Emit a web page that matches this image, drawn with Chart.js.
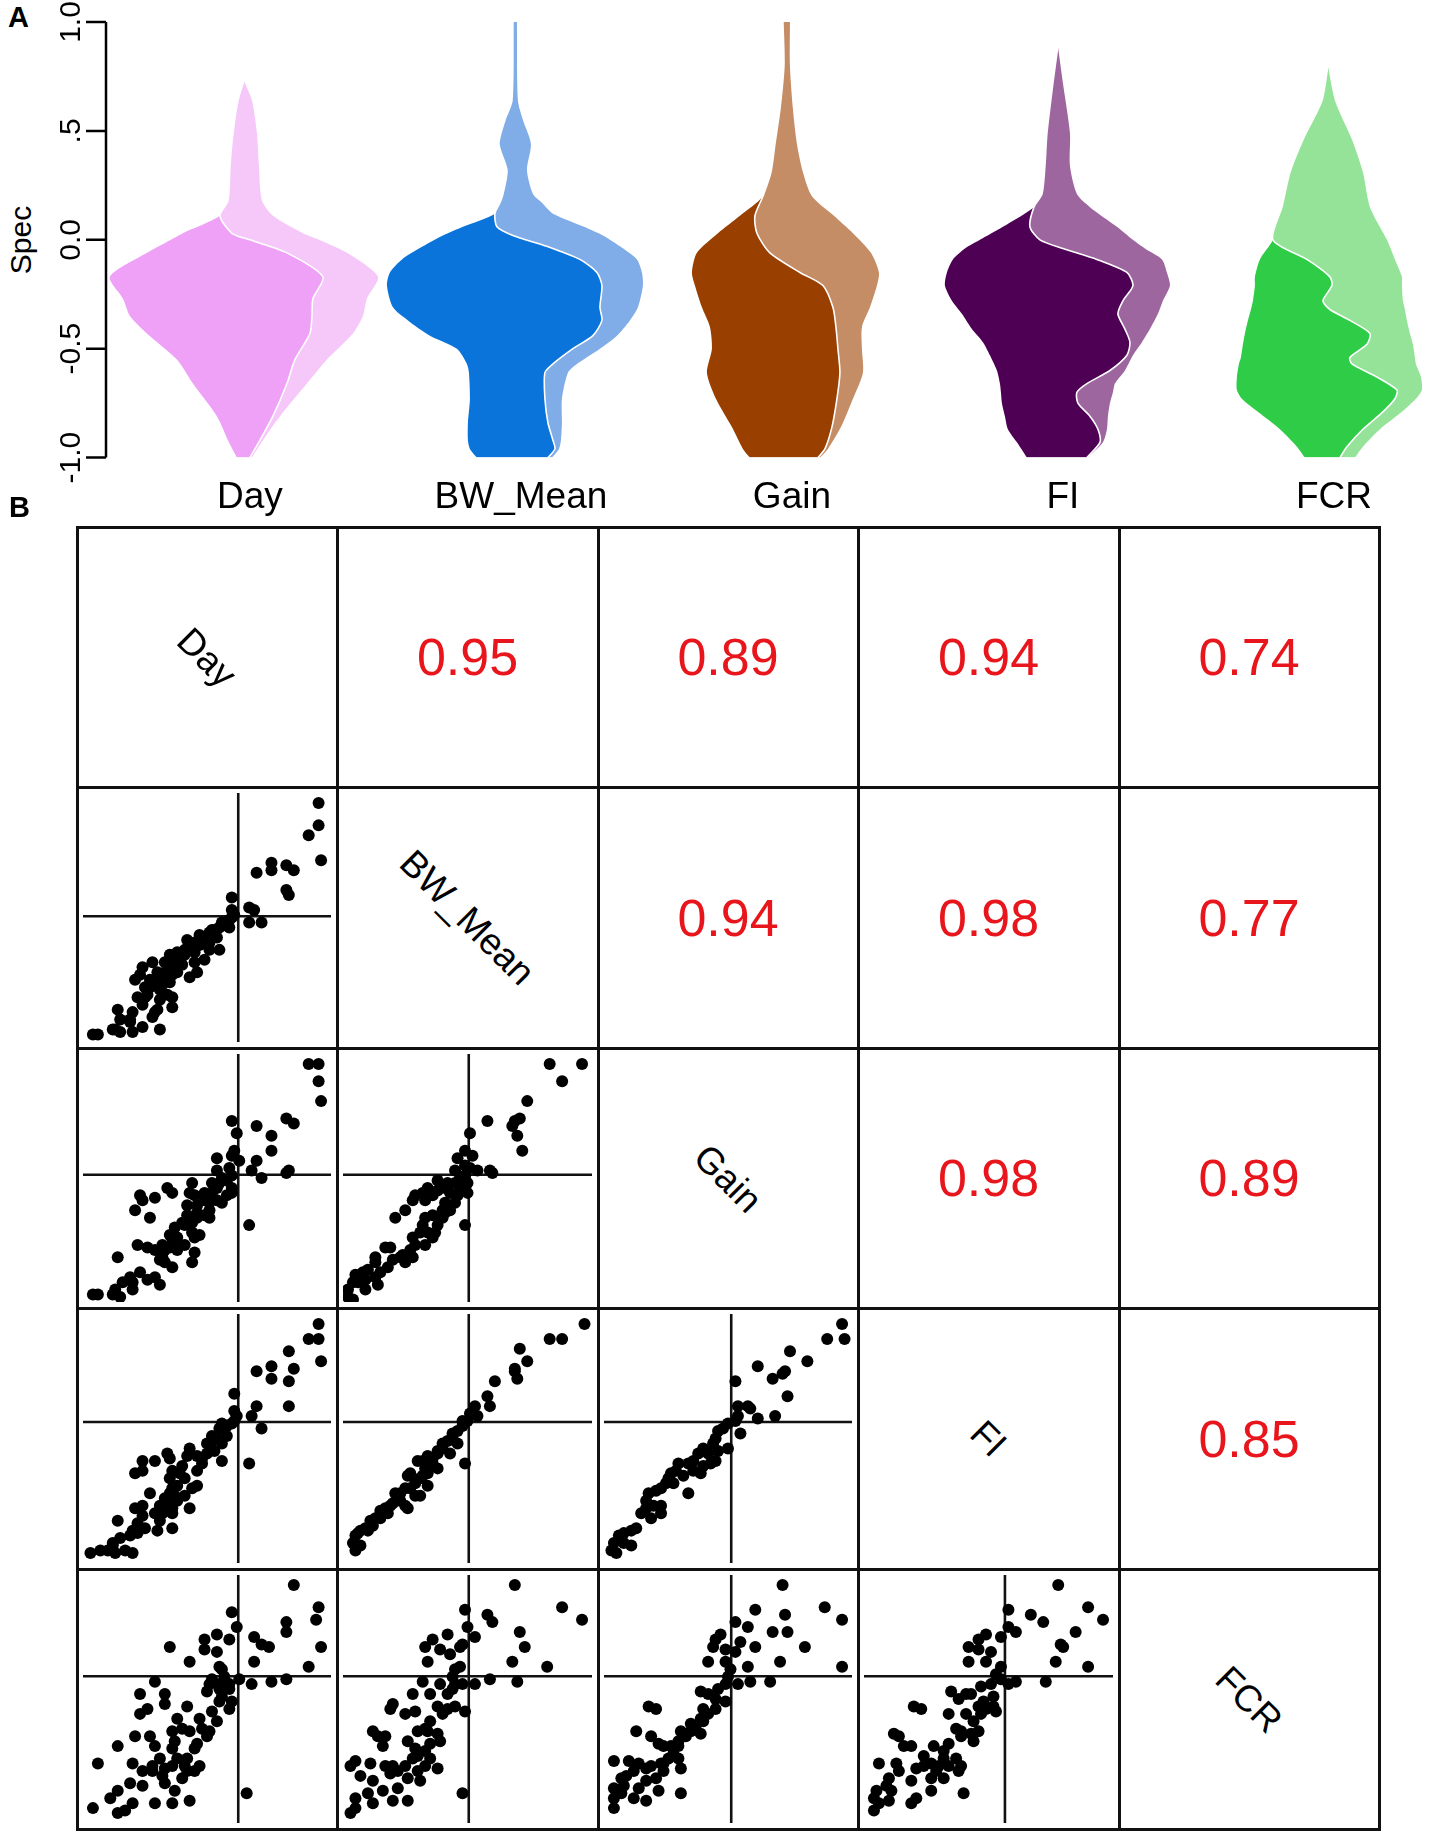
<!DOCTYPE html>
<html>
<head>
<meta charset="utf-8">
<script src="https://cdn.jsdelivr.net/npm/chart.js@4.4.1/dist/chart.umd.min.js"></script>
<style>
html,body{margin:0;padding:0;background:#fff;}
body{width:1429px;height:1838px;position:relative;overflow:hidden;font-family:"Liberation Sans",Arial,Helvetica,sans-serif;color:#000;}
#violin{position:absolute;left:0;top:0;}
.panel-label{position:absolute;font-weight:bold;font-size:29px;line-height:1;}
.spec{position:absolute;left:21px;top:240px;font-size:30px;line-height:1;white-space:nowrap;transform:translate(-50%,-50%) rotate(-90deg);}
.cell{position:absolute;display:flex;align-items:center;justify-content:center;}
.corr{color:#e8161c;font-size:52px;line-height:1;}
.diag span{display:inline-block;transform:rotate(45deg);font-size:37px;line-height:1;white-space:nowrap;}
.gl{position:absolute;background:#111;}
canvas.sc{position:absolute;}
</style>
</head>
<body>
<div class="panel-label" style="left:8px;top:3px">A</div>
<div class="spec">Spec</div>
<canvas id="violin" width="1429" height="538"></canvas>
<div class="panel-label" style="left:9px;top:493px">B</div>
<div id="matrix"></div>
<script>
// ---------------- DATA ----------------
const traits = ['Day', 'BW_Mean', 'Gain', 'FI', 'FCR'];
const traitPos = [1, 2, 3, 4, 5];
const specTicks = [-1, -0.5, 0, 0.5, 1];
const specTickLabels = ['-1.0', '-0.5', '0.0', '.5', '1.0'];

// split violins: Spec levels, dark-group edge, split line, light-group edge (density offsets)
const dayLevels = [-1.0,-0.92,-0.81,-0.66,-0.55,-0.43,-0.35,-0.27,-0.17,-0.06,0.0,0.03,0.11,0.18,0.34,0.49,0.64,0.73];
const dayDark   = [-7,-16,-27,-51,-67,-97,-114,-121,-134,-97,-73,-61,-24,-16,-14,-11,-6,0];
const daySplit  = [6,16,29,43,51,66,68,69,79,43,6,-12,-24,-16,-14,-11,-6,0];
const dayLight  = [8,19,36,63,83,109,119,123,134,103,75,59,29,18,15,13,8,0];

const bwLevels = [-1.0,-0.96,-0.92,-0.84,-0.73,-0.61,-0.57,-0.5,-0.44,-0.37,-0.31,-0.21,-0.15,-0.09,-0.03,0.02,0.06,0.12,0.17,0.21,0.32,0.44,0.55,0.64,1.0];
const bwDark   = [-38,-45,-47,-47,-45,-46,-48,-58,-85,-107,-122,-128,-125,-113,-92,-72,-52,-20,-15,-12,-8,-16,-10,-3,-2];
const bwSplit  = [33,40,38,33,30,30,38,58,78,87,85,87,82,65,32,-2,-18,-20,-15,-12,-8,-16,-10,-3,-2];
const bwLight  = [37,44,46,47,47,53,62,85,102,115,123,128,127,122,105,88,69,38,27,18,12,16,8,3,2];

const gainLevels = [-1.0,-0.96,-0.86,-0.73,-0.61,-0.5,-0.4,-0.31,-0.21,-0.15,-0.06,0.03,0.11,0.2,0.31,0.44,0.6,0.8,1.0];
const gainDark   = [-36,-43,-54,-70,-79,-74,-76,-84,-91,-94,-89,-68,-46,-23,-15,-11,-6,-2,-3];
const gainSplit  = [32,39,46,51,54,52,50,47,37,14,-16,-29,-31,-23,-15,-11,-6,-2,-3];
const gainLight  = [34,42,55,67,77,76,76,84,91,93,85,67,48,26,17,11,7,4,4];

const fiLevels = [-1.0,-0.93,-0.87,-0.81,-0.75,-0.70,-0.66,-0.60,-0.53,-0.47,-0.41,-0.34,-0.28,-0.21,-0.15,-0.09,-0.04,0.0,0.06,0.15,0.21,0.34,0.49,0.72,0.89];
const fiDark   = [-30,-40,-49,-52,-55,-56,-57,-60,-67,-74,-85,-95,-105,-112,-110,-104,-92,-77,-54,-23,-15,-12,-10,-4,1];
const fiSplit  = [30,43,41,33,21,20,30,53,70,73,68,61,66,76,70,40,6,-17,-27,-23,-15,-12,-10,-4,1];
const fiLight  = [31,46,50,51,53,56,58,68,76,85,93,101,106,113,110,105,88,76,60,33,20,13,13,6,1];

const fcrLevels = [-1.0,-0.95,-0.87,-0.79,-0.73,-0.69,-0.63,-0.57,-0.54,-0.48,-0.43,-0.37,-0.32,-0.28,-0.21,-0.17,-0.09,0.0,0.15,0.31,0.46,0.64,0.80];
const fcrDark   = [-23,-31,-48,-70,-86,-91,-91,-89,-87,-85,-83,-80,-77,-75,-73,-73,-68,-55,-46,-38,-25,-6,0];
const fcrSplit  = [12,19,35,55,67,69,49,24,22,39,42,22,2,-5,4,2,-21,-55,-46,-38,-25,-6,0];
const fcrLight  = [27,35,52,74,88,94,93,88,87,85,82,79,77,75,74,74,67,59,42,35,24,7,0];

// correlations (upper triangle, by row)
const corrDay  = [0.95, 0.89, 0.94, 0.74];
const corrBw   = [0.94, 0.98, 0.77];
const corrGain = [0.98, 0.89];
const corrFi   = [0.85];

// scaled position of zero for each trait in the pair panels
const traitZero = [62.6, 50.5, 51.3, 56.6, 59.2];

// pair-panel points [x, y] in scaled units (0-100)
const bwDay = [[95,96],[95,87],[91,83],[96,73],[76,72],[76,69],[82,71],[85,69],[70,68],[82,61],[83,59],[60,58],[67,54],[69,53],[67,48],[72,48],[60,53],[61,51],[60,50],[59,49],[56,48],[55,46],[53,45],[59,46],[51,44],[49,42],[54,42],[42,41],[45,40],[47,39],[51,37],[55,37],[45,36],[38,36],[35,35],[41,35],[37,33],[33,32],[40,31],[45,32],[49,33],[51,40],[46,28],[43,26],[38,28],[36,27],[33,28],[28,32],[24,30],[23,27],[21,25],[27,22],[26,19],[31,21],[34,19],[36,18],[31,17],[36,14],[30,13],[28,10],[25,18],[22,18],[24,15],[20,12],[19,9],[14,13],[15,9],[13,5],[12,5],[15,4],[19,8],[20,4],[24,6],[29,12],[31,5],[4,3],[6,3],[32,23],[29,24],[41,37],[35,24],[32,26],[43,38],[47,43],[52,45],[57,47],[39,34],[36,30],[30,28],[27,25],[25,22],[33,25]];
const gainDay = [[91,96],[95,96],[95,89],[96,81],[82,74],[85,72],[60,73],[62,68],[70,71],[76,67],[76,61],[61,61],[60,59],[63,57],[54,58],[54,53],[70,57],[68,53],[72,50],[83,53],[82,52],[67,31],[59,54],[60,51],[58,49],[55,48],[52,48],[60,46],[60,44],[58,43],[56,40],[54,41],[51,40],[49,44],[44,48],[43,44],[34,46],[36,44],[29,42],[23,43],[24,41],[21,37],[27,34],[42,39],[46,39],[51,37],[49,35],[46,34],[44,32],[41,31],[40,32],[37,30],[44,28],[47,27],[38,26],[36,24],[33,21],[32,18],[31,17],[33,16],[36,14],[44,16],[45,20],[22,23],[26,22],[29,21],[14,18],[19,10],[20,8],[23,12],[26,9],[31,7],[16,8],[13,5],[12,3],[15,2],[4,3],[6,3],[20,5],[29,10],[35,22],[38,21],[41,23],[45,26],[54,46],[56,50],[52,44],[49,41],[45,43],[46,36],[35,27],[37,22],[32,23],[42,35],[51,34]];
const gainBw = [[83,96],[96,96],[88,89],[74,81],[58,73],[71,74],[69,73],[68,71],[70,67],[72,61],[51,68],[49,61],[46,58],[52,59],[59,53],[60,52],[54,53],[51,54],[49,55],[45,53],[49,51],[50,48],[50,44],[49,31],[47,50],[45,48],[42,48],[38,49],[34,46],[32,44],[29,43],[28,41],[25,37],[21,34],[41,46],[38,45],[43,44],[36,43],[33,41],[46,43],[45,40],[43,37],[41,36],[40,34],[38,31],[36,35],[33,34],[32,31],[31,28],[28,26],[34,28],[37,28],[36,26],[33,23],[29,23],[27,21],[24,19],[25,16],[23,18],[19,22],[17,22],[13,18],[13,16],[10,13],[8,12],[5,11],[4,8],[2,5],[6,8],[9,9],[13,10],[15,12],[18,14],[20,17],[2,2],[4,1],[9,5],[14,7],[28,18],[41,40],[47,46],[49,51],[42,39],[40,37]];
const fiDay = [[95,96],[91,90],[95,90],[96,81],[83,85],[76,79],[70,77],[76,74],[83,73],[85,78],[83,63],[70,63],[68,59],[72,54],[67,40],[61,68],[61,61],[62,59],[61,57],[60,56],[58,55],[56,56],[55,54],[58,51],[54,50],[52,49],[56,48],[53,45],[50,44],[56,41],[43,46],[42,43],[46,43],[48,40],[46,37],[40,39],[39,36],[41,34],[38,31],[36,30],[35,28],[37,27],[35,25],[33,26],[31,23],[34,22],[36,20],[32,20],[29,20],[24,23],[21,22],[24,19],[22,16],[27,28],[34,44],[35,42],[29,41],[24,41],[24,37],[21,36],[36,37],[43,22],[46,31],[44,30],[41,27],[38,25],[36,22],[36,14],[30,13],[25,14],[22,12],[20,13],[19,11],[14,17],[15,10],[12,8],[13,4],[12,7],[7,5],[3,4],[17,5],[20,4],[10,5],[31,17],[35,34],[48,42],[50,48],[52,51]];
const fiBw = [[97,96],[83,90],[88,90],[71,86],[74,81],[69,78],[69,77],[70,74],[61,73],[58,67],[59,63],[53,63],[52,60],[54,59],[50,57],[48,55],[46,53],[44,50],[42,49],[40,46],[38,45],[34,43],[32,41],[30,41],[38,38],[34,36],[32,35],[31,34],[29,32],[27,36],[26,35],[25,30],[23,28],[21,28],[19,23],[17,22],[15,21],[13,18],[11,17],[9,14],[7,13],[6,12],[5,11],[4,8],[5,5],[7,7],[26,22],[29,27],[34,31],[36,40],[38,44],[43,44],[46,48],[49,40],[25,23],[23,25],[18,20],[15,18],[31,27],[27,30],[33,38],[36,42],[40,48],[44,52],[48,57],[51,60],[20,24],[12,15],[10,13]];
const fiGain = [[96,96],[90,90],[97,90],[75,85],[82,81],[62,79],[73,77],[72,76],[68,74],[74,67],[53,73],[54,63],[58,63],[59,62],[69,59],[62,58],[54,59],[53,57],[55,52],[50,56],[48,54],[46,53],[45,50],[44,48],[50,46],[46,45],[42,44],[45,41],[40,46],[38,44],[36,41],[34,40],[39,36],[30,40],[29,37],[27,36],[26,34],[25,32],[28,32],[23,30],[21,29],[18,28],[34,28],[23,23],[20,23],[17,25],[17,22],[15,20],[19,18],[23,20],[13,14],[11,13],[8,12],[6,11],[8,8],[4,8],[3,5],[11,7],[5,4],[36,37],[40,39],[43,40],[32,35]];
const fcrDay = [[85,96],[95,87],[94,82],[82,81],[82,77],[96,71],[91,63],[69,75],[72,72],[75,71],[69,65],[68,56],[76,57],[82,58],[66,12],[60,85],[62,79],[54,76],[49,74],[59,74],[49,70],[35,71],[43,65],[54,69],[55,63],[56,62],[57,59],[29,57],[51,56],[55,56],[59,56],[50,53],[56,51],[60,49],[59,46],[55,49],[52,45],[54,41],[51,37],[50,35],[46,32],[45,30],[43,37],[40,38],[36,37],[47,42],[42,47],[33,52],[23,52],[33,48],[26,46],[23,44],[21,35],[27,35],[14,31],[29,31],[37,33],[36,30],[38,26],[41,23],[42,21],[45,21],[36,23],[33,22],[28,21],[32,19],[33,16],[28,23],[20,24],[24,21],[6,24],[19,16],[24,15],[14,13],[11,10],[20,8],[29,8],[36,8],[43,9],[37,13],[17,5],[14,4],[4,6],[42,26],[47,23],[40,18],[31,26],[38,42],[48,38],[55,54],[52,58],[63,58],[59,54]];
const fcrBw = [[69,96],[88,87],[96,82],[58,84],[60,81],[71,77],[73,71],[53,75],[68,65],[82,63],[70,57],[59,58],[53,56],[48,12],[49,86],[50,79],[42,76],[48,72],[47,71],[36,74],[33,71],[39,70],[43,68],[34,65],[47,63],[45,62],[44,59],[32,57],[39,56],[45,56],[48,56],[44,54],[42,52],[35,52],[28,52],[38,47],[45,47],[49,45],[42,46],[40,44],[35,41],[33,38],[38,36],[39,33],[35,32],[34,37],[30,37],[20,48],[19,46],[25,44],[29,45],[12,37],[14,35],[17,35],[16,31],[29,30],[33,29],[35,26],[38,22],[33,23],[30,21],[25,23],[22,21],[20,23],[17,23],[11,24],[5,25],[3,23],[7,19],[12,17],[19,20],[26,18],[31,17],[22,14],[16,13],[10,12],[5,10],[12,8],[20,9],[26,9],[5,6],[3,4],[28,26],[30,27],[26,33]];
const fcrGain = [[72,96],[89,87],[96,82],[61,86],[73,84],[53,81],[58,79],[68,77],[74,77],[81,71],[61,71],[71,65],[96,63],[58,63],[59,57],[67,57],[54,56],[31,12],[47,76],[45,74],[55,73],[44,71],[49,70],[53,69],[42,65],[49,65],[51,62],[50,59],[49,56],[46,54],[42,52],[39,53],[45,50],[49,49],[45,46],[42,44],[40,41],[37,38],[39,36],[35,37],[33,35],[31,37],[30,33],[27,31],[24,31],[22,32],[19,35],[13,37],[18,47],[21,46],[30,31],[28,28],[26,26],[23,24],[24,21],[19,23],[17,22],[14,24],[12,21],[9,19],[4,25],[10,25],[7,18],[8,15],[4,14],[7,12],[4,10],[4,6],[12,10],[17,9],[22,13],[21,18],[17,17],[14,14],[24,24],[31,22],[40,46],[35,40],[32,36],[30,26],[39,42]];
const fcrFi = [[78,96],[90,87],[96,82],[67,84],[72,81],[85,77],[58,86],[58,79],[61,77],[80,71],[79,72],[77,65],[90,63],[61,57],[58,56],[73,57],[40,12],[49,76],[46,74],[55,75],[42,71],[46,70],[51,69],[42,65],[49,65],[55,63],[53,60],[55,58],[51,56],[47,55],[43,52],[41,52],[35,53],[38,50],[52,51],[52,47],[53,45],[49,46],[46,47],[47,44],[44,41],[41,44],[34,44],[46,37],[43,36],[39,37],[37,38],[44,33],[39,35],[34,32],[32,29],[20,47],[23,46],[12,36],[14,35],[16,31],[19,31],[28,31],[37,26],[34,23],[30,23],[27,24],[24,23],[29,21],[32,18],[27,18],[21,22],[19,17],[14,21],[10,18],[6,24],[13,24],[9,15],[11,13],[5,13],[4,10],[6,8],[4,5],[10,9],[19,8],[21,10],[27,13],[39,23],[38,21],[24,27],[32,26],[48,49]];

// ---------------- STYLE ----------------
const darkColors  = ['#EFA1F7', '#0A74DA', '#994000', '#4E0055', '#2ECC47'];
const lightColors = ['#F6C8FA', '#80ACE8', '#C48D66', '#9D669F', '#95E398'];
const violinWex = 1 / 271;   // density offset -> category units
const FONT = '"Liberation Sans", Arial, Helvetica, sans-serif';
Chart.defaults.font.family = FONT;
Chart.defaults.color = '#000';

// ---------------- PANEL A ----------------
const violins = [
  {levels: dayLevels,  dark: dayDark,  split: daySplit,  light: dayLight},
  {levels: bwLevels,   dark: bwDark,   split: bwSplit,   light: bwLight},
  {levels: gainLevels, dark: gainDark, split: gainSplit, light: gainLight},
  {levels: fiLevels,   dark: fiDark,   split: fiSplit,   light: fiLight},
  {levels: fcrLevels,  dark: fcrDark,  split: fcrSplit,  light: fcrLight}
];
const violinDatasets = [];
violins.forEach((v, i) => {
  const c = traitPos[i];
  const mk = arr => v.levels.map((y, k) => ({x: c + arr[k] * violinWex, y: y}));
  const common = {pointRadius: 0, tension: 0.25};
  violinDatasets.push(Object.assign({data: mk(v.dark), fill: '+1', backgroundColor: darkColors[i], borderColor: 'rgba(0,0,0,0)', borderWidth: 0, order: 1}, common));
  violinDatasets.push(Object.assign({data: mk(v.split), fill: '+1', backgroundColor: lightColors[i], borderColor: '#ffffff', borderWidth: 1.6, order: 0}, common));
  violinDatasets.push(Object.assign({data: mk(v.light), fill: false, backgroundColor: lightColors[i], borderColor: 'rgba(0,0,0,0)', borderWidth: 0, order: 1}, common));
});

const specAxisPlugin = {
  id: 'specAxis',
  afterDraw(chart) {
    const {ctx, chartArea} = chart;
    const y = chart.scales.y;
    const x0 = chartArea.left;
    ctx.save();
    ctx.strokeStyle = '#000';
    ctx.lineWidth = 2.5;
    ctx.beginPath();
    ctx.moveTo(x0, y.getPixelForValue(specTicks[0]));
    ctx.lineTo(x0, y.getPixelForValue(specTicks[specTicks.length - 1]));
    specTicks.forEach(v => {
      const py = y.getPixelForValue(v);
      ctx.moveTo(x0 - 20, py);
      ctx.lineTo(x0, py);
    });
    ctx.stroke();
    ctx.fillStyle = '#000';
    ctx.font = '30px ' + FONT;
    ctx.textAlign = 'center';
    ctx.textBaseline = 'middle';
    specTicks.forEach((v, i) => {
      const py = y.getPixelForValue(v);
      ctx.save();
      ctx.translate(x0 - 34, py);
      ctx.rotate(-Math.PI / 2);
      ctx.fillText(specTickLabels[i], 0, 0);
      ctx.restore();
    });
    ctx.restore();
  }
};

new Chart(document.getElementById('violin'), {
  type: 'line',
  data: {datasets: violinDatasets},
  options: {
    indexAxis: 'y',
    responsive: false,
    animation: false,
    devicePixelRatio: 1,
    events: [],
    layout: {padding: {left: 106, top: 22, right: 0, bottom: 0}},
    scales: {
      x: {
        type: 'linear', min: 0.491, max: 5.373,
        grid: {display: false, drawTicks: false},
        border: {display: false},
        afterBuildTicks: axis => { axis.ticks = traitPos.map(v => ({value: v})); },
        ticks: {autoSkip: false, maxRotation: 0, padding: 18, labelOffset: 6, font: {size: 37}, color: '#000',
                callback: v => traits[Math.round(v) - 1]}
      },
      y: {type: 'linear', min: -1, max: 1, display: false}
    },
    plugins: {legend: {display: false}, tooltip: {enabled: false}}
  },
  plugins: [specAxisPlugin]
});

// ---------------- PANEL B ----------------
const corrRows = [corrDay, corrBw, corrGain, corrFi];
const pairPanels = {
  '1-0': bwDay, '2-0': gainDay, '2-1': gainBw,
  '3-0': fiDay, '3-1': fiBw, '3-2': fiGain,
  '4-0': fcrDay, '4-1': fcrBw, '4-2': fcrGain, '4-3': fcrFi
};
const M0X = 77, M0Y = 527, CELL = 260.4, N = traits.length;
const matrix = document.getElementById('matrix');
for (let r = 0; r < N; r++) {
  for (let c = 0; c < N; c++) {
    const left = Math.round(M0X + c * CELL), top = Math.round(M0Y + r * CELL);
    const w = Math.round(M0X + (c + 1) * CELL) - left, h = Math.round(M0Y + (r + 1) * CELL) - top;
    if (r === c) {
      const d = document.createElement('div');
      d.className = 'cell diag';
      Object.assign(d.style, {left: left + 'px', top: top + 'px', width: w + 'px', height: h + 'px'});
      const s = document.createElement('span');
      s.textContent = traits[r];
      d.appendChild(s);
      matrix.appendChild(d);
    } else if (r < c) {
      const d = document.createElement('div');
      d.className = 'cell corr';
      Object.assign(d.style, {left: left + 'px', top: top + 'px', width: w + 'px', height: h + 'px'});
      d.textContent = corrRows[r][c - r - 1].toFixed(2);
      matrix.appendChild(d);
    } else {
      const cv = document.createElement('canvas');
      cv.className = 'sc';
      cv.width = w; cv.height = h;
      Object.assign(cv.style, {left: left + 'px', top: top + 'px'});
      matrix.appendChild(cv);
      const pts = pairPanels[r + '-' + c];
      new Chart(cv, {
        type: 'scatter',
        data: {datasets: [
          {data: pts.map(p => ({x: p[0], y: p[1]})), pointRadius: 6, backgroundColor: '#000', borderColor: '#000', borderWidth: 0},
          {data: [{x: traitZero[c], y: 0}, {x: traitZero[c], y: 100}], showLine: true, borderColor: '#111', borderWidth: 2.6, pointRadius: 0},
          {data: [{x: 0, y: traitZero[r]}, {x: 100, y: traitZero[r]}], showLine: true, borderColor: '#111', borderWidth: 2.6, pointRadius: 0}
        ]},
        options: {
          responsive: false, animation: false, devicePixelRatio: 1, events: [],
          layout: {padding: 0},
          scales: {
            x: {type: 'linear', min: 0, max: 100, display: false},
            y: {type: 'linear', min: 0, max: 100, display: false}
          },
          plugins: {legend: {display: false}, tooltip: {enabled: false}}
        }
      });
    }
  }
}
// grid lines
for (let i = 0; i <= N; i++) {
  const v = document.createElement('div');
  v.className = 'gl';
  Object.assign(v.style, {left: (Math.round(M0X + i * CELL) - 1.5) + 'px', top: (M0Y - 1.5) + 'px', width: '3px', height: (Math.round(N * CELL) + 3) + 'px'});
  matrix.appendChild(v);
  const hz = document.createElement('div');
  hz.className = 'gl';
  Object.assign(hz.style, {left: (M0X - 1.5) + 'px', top: (Math.round(M0Y + i * CELL) - 1.5) + 'px', width: (Math.round(N * CELL) + 3) + 'px', height: '3px'});
  matrix.appendChild(hz);
}
</script>
</body>
</html>
